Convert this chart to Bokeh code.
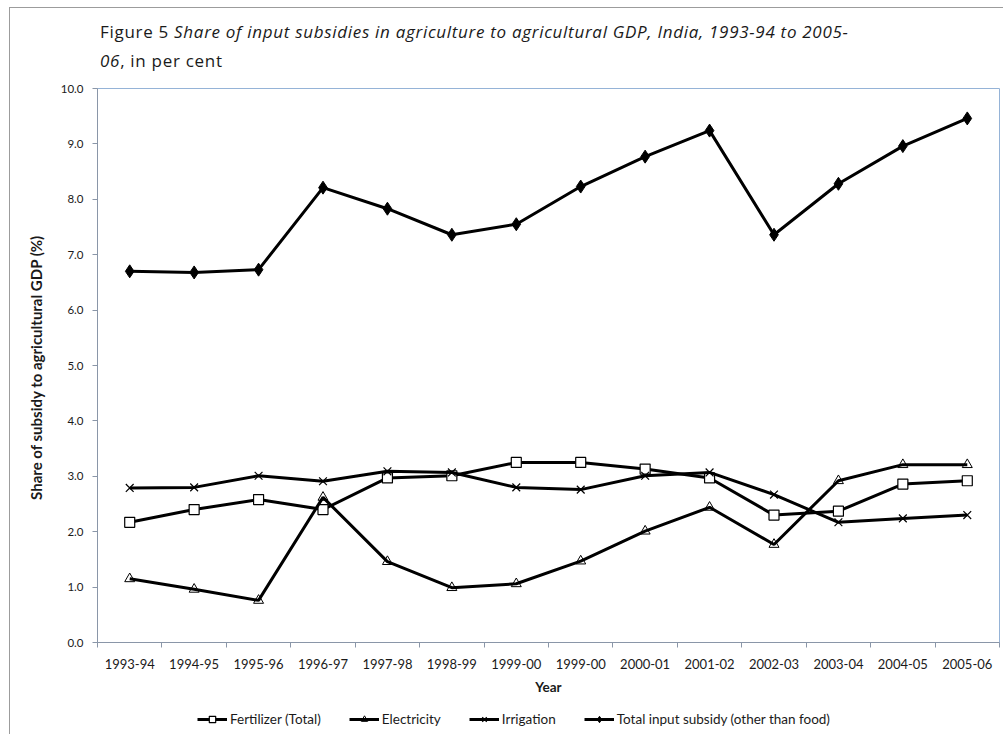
from bokeh.plotting import figure
from bokeh.layouts import column
from bokeh.models import (FixedTicker, Legend, LegendItem, ColumnDataSource, Div,
                          PrintfTickFormatter, Range1d)
from bokeh.embed import file_html
from bokeh.resources import INLINE

# Share of input subsidies in agricultural GDP (%), India
years = ["1993-94", "1994-95", "1995-96", "1996-97", "1997-98", "1998-99", "1999-00",
         "1999-00", "2000-01", "2001-02", "2002-03", "2003-04", "2004-05", "2005-06"]
fertilizer = [2.17, 2.40, 2.58, 2.40, 2.97, 3.01, 3.25, 3.25, 3.13, 2.97, 2.30, 2.37, 2.86, 2.92]
electricity = [1.15, 0.96, 0.76, 2.62, 1.46, 0.99, 1.06, 1.47, 2.01, 2.44, 1.77, 2.92, 3.21, 3.21]
irrigation = [2.79, 2.80, 3.01, 2.91, 3.09, 3.07, 2.80, 2.76, 3.01, 3.07, 2.67, 2.17, 2.24, 2.30]
total = [6.70, 6.68, 6.73, 8.21, 7.83, 7.36, 7.55, 8.23, 8.77, 9.24, 7.36, 8.28, 8.96, 9.46]
series_names = ["Fertilizer (Total)", "Electricity", "Irrigation",
                "Total input subsidy (other than food)"]
y_ticks = [0, 1, 2, 3, 4, 5, 6, 7, 8, 9, 10]

# the year list repeats "1999-00", so positions are indices with labels overridden
pos = list(range(len(years)))
src = ColumnDataSource(dict(x=pos, fert=fertilizer, elec=electricity, irr=irrigation, tot=total))
columns = ["fert", "elec", "irr", "tot"]

FONT = "Lato"
AXIS_GRAY = "#8a96a8"
TEXT = "#1a1a1a"
LW = 3

# marker style per series: (marker, size, fill, outline width)
STYLES = [("square", 10, "white", 1.2), ("triangle", 10, None, 1.0),
          ("x", 11, None, 1.2), ("diamond", 13, "black", 1.0)]

p = figure(width=993, height=624, output_backend="svg", toolbar_location=None,
           x_range=Range1d(-0.5, len(years) - 0.5), y_range=Range1d(0, 10),
           min_border_left=87, min_border_top=10, min_border_right=4, min_border_bottom=60,
           background_fill_color="white", border_fill_color="white")
p.xgrid.visible = False
p.ygrid.visible = False
p.outline_line_color = "#95b3d7"
p.outline_line_width = 1

# x axis: labels at category centres, tick marks on category boundaries
p.xaxis.ticker = FixedTicker(ticks=pos, minor_ticks=[i - 0.5 for i in range(len(years) + 1)])
p.xaxis.major_label_overrides = {i: y for i, y in enumerate(years)}
p.xaxis.major_tick_out = 0
p.xaxis.major_tick_in = 0
p.xaxis.minor_tick_out = 5
p.xaxis.minor_tick_in = 0
p.xaxis.minor_tick_line_color = AXIS_GRAY
p.xaxis.axis_line_color = AXIS_GRAY
p.xaxis.major_label_standoff = 11
p.xaxis.major_label_text_font = FONT
p.xaxis.major_label_text_font_size = "13px"
p.xaxis.major_label_text_color = TEXT
p.xaxis.axis_label = "Year"
p.xaxis.axis_label_text_font = FONT
p.xaxis.axis_label_text_font_size = "13.5px"
p.xaxis.axis_label_text_font_style = "bold"
p.xaxis.axis_label_text_color = TEXT
p.xaxis.axis_label_standoff = 7

p.yaxis.ticker = FixedTicker(ticks=y_ticks)
p.yaxis.formatter = PrintfTickFormatter(format="%.1f")
p.yaxis.minor_tick_line_color = None
p.yaxis.major_tick_out = 5
p.yaxis.major_tick_in = 0
p.yaxis.major_tick_line_color = AXIS_GRAY
p.yaxis.axis_line_color = AXIS_GRAY
p.yaxis.major_label_standoff = 9
p.yaxis.major_label_text_font = FONT
p.yaxis.major_label_text_font_size = "11.5px"
p.yaxis.major_label_text_color = TEXT
p.yaxis.axis_label = "Share of subsidy to agricultural  GDP (%)"
p.yaxis.axis_label_text_font = FONT
p.yaxis.axis_label_text_font_size = "15px"
p.yaxis.axis_label_text_font_style = "bold"
p.yaxis.axis_label_text_color = TEXT
p.yaxis.axis_label_standoff = 13

for col, (mk, sz, fill, mlw) in zip(columns, STYLES):
    p.line("x", col, source=src, line_color="black", line_width=LW)
    p.scatter("x", col, source=src, marker=mk, size=sz, fill_color=fill,
              line_color="black", line_width=mlw)

# legend strip under the chart; its series sit outside the strip's view,
# so only the legend keys (same line and marker styles) are shown
key = figure(width=993, height=32, output_backend="svg", toolbar_location=None,
             x_range=Range1d(100, 101), y_range=Range1d(100, 101), min_border=0,
             x_axis_location=None, y_axis_location=None,
             background_fill_color="white", border_fill_color="white")
key.grid.visible = False
key.outline_line_color = None
items = []
for name, col, (mk, sz, fill, mlw) in zip(series_names, columns, STYLES):
    r_line = key.line("x", col, source=src, line_color="black", line_width=LW)
    r_mark = key.scatter("x", col, source=src, marker=mk, size=sz, fill_color=fill,
                         line_color="black", line_width=mlw)
    items.append(LegendItem(label=name, renderers=[r_line, r_mark]))
key.add_layout(Legend(items=items, orientation="horizontal", location=(100, 7),
                      border_line_color=None, background_fill_alpha=0, margin=0,
                      padding=2, spacing=28, glyph_width=30, glyph_height=16,
                      label_standoff=3, label_text_font=FONT,
                      label_text_font_size="13.5px", label_text_color=TEXT))

title = Div(
    text="Figure 5 <i>Share of input subsidies in agriculture to agricultural GDP, India, "
         "1993-94 to 2005-<br>06</i>, in per cent",
    width=993, height=70,
    styles={"font-family": "Open Sans", "font-size": "17px", "line-height": "29px",
            "letter-spacing": "0.7px", "color": TEXT, "padding-left": "90px",
            "padding-top": "9px", "box-sizing": "border-box", "white-space": "nowrap"})
title.margin = 0

page = column(title, p, key, spacing=0,
              styles={"border-left": "1px solid #9c9c9c", "border-top": "1px solid #9c9c9c",
                      "background": "white"})
page.margin = (7, 0, 0, 9)

open("out.html", "w").write(file_html(page, INLINE))
